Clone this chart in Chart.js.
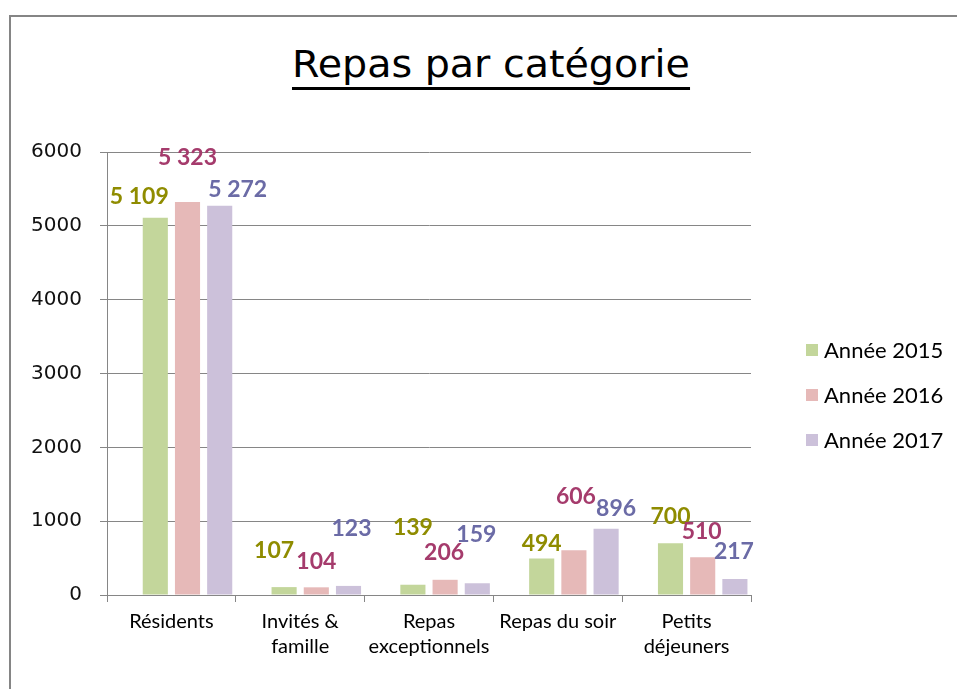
<!DOCTYPE html>
<html lang="fr">
<head>
<meta charset="utf-8">
<title>Repas par catégorie</title>
<script src="https://cdn.jsdelivr.net/npm/chart.js@4.4.1/dist/chart.umd.min.js"></script>
<style>
  html, body { margin: 0; padding: 0; background: #fff; }
  body { width: 957px; height: 689px; position: relative; overflow: hidden; }
  /* chart frame: only left and top edges are visible in the crop */
  .frame {
    position: absolute; left: 9px; top: 15px; width: 1200px; height: 900px;
    border-left: 2px solid #858585; border-top: 2px solid #858585;
  }
  .title {
    position: absolute; left: 0; top: 46px; width: 982px; text-align: center;
    font-family: "DejaVu Sans", sans-serif; font-size: 37px; line-height: 37px; color: #000;
  }
  .title span {
    display: inline-block; transform: scaleX(1.07); transform-origin: center;
    padding-bottom: 4px; border-bottom: 3px solid #000;
  }
  #chart { position: absolute; left: 0; top: 0; }
  #legend {
    position: absolute; left: 806px; top: 327px; margin: 0; padding: 0; list-style: none;
    font-family: Lato, sans-serif; font-size: 22px; color: #000;
  }
  #legend li { height: 45px; line-height: 45px; display: flex; align-items: center; white-space: nowrap; }
  #legend li i { display: inline-block; width: 12px; height: 12px; margin-right: 6px; }
</style>
</head>
<body>
<div class="frame"></div>
<div class="title"><span>Repas par catégorie</span></div>
<canvas id="chart" width="957" height="689"></canvas>
<ul id="legend"></ul>
<script>
// --- data ---
const categories = ['Résidents', ['Invités &', 'famille'], ['Repas', 'exceptionnels'], 'Repas du soir', ['Petits', 'déjeuners']];
const seriesNames = ['Année 2015', 'Année 2016', 'Année 2017'];
const values2015 = [5109, 107, 139, 494, 700];
const values2016 = [5323, 104, 206, 606, 510];
const values2017 = [5272, 123, 159, 896, 217];
const yTicks = [0, 1000, 2000, 3000, 4000, 5000, 6000];

// styles
const barColors = ['#c3d69b', '#e6b9b8', '#ccc1da'];
const labelColors = ['#8f8c00', '#a53b6c', '#6b6ba6'];
// value label placement (px from bar top centre), as in the original sheet
const labelShift = [
  [[-16, -22], [-10, -38], [0, -58], [0, -16], [0, -28]],
  [[0, -45], [0, -27], [-1, -28], [2, -55], [-1, -27]],
  [[18, -17], [3, -58], [-1, -50], [10, -21], [-1, -28]]
];

const gridColor = '#868686';
const seriesValues = [values2015, values2016, values2017];

// Excel leaves an empty slot on the left of each cluster
const datasets = [{
  label: '',
  data: categories.map(() => null),
  backgroundColor: 'rgba(0,0,0,0)'
}];
seriesValues.forEach((vals, i) => {
  datasets.push({
    label: seriesNames[i],
    data: vals,
    backgroundColor: barColors[i],
    borderWidth: 0,
    seriesIndex: i
  });
});

const frLabel = v => String(v).replace(/\B(?=(\d{3})+(?!\d))/g, ' ');

const valueLabels = {
  id: 'valueLabels',
  afterDatasetsDraw(chart) {
    const ctx = chart.ctx;
    ctx.save();
    ctx.font = 'bold 23px Lato, sans-serif';
    ctx.textAlign = 'center';
    ctx.textBaseline = 'alphabetic';
    chart.data.datasets.forEach((ds, di) => {
      if (ds.seriesIndex === undefined) return;
      const meta = chart.getDatasetMeta(di);
      ctx.fillStyle = labelColors[ds.seriesIndex];
      meta.data.forEach((bar, j) => {
        const [dx, dy] = labelShift[ds.seriesIndex][j];
        ctx.fillText(frLabel(ds.data[j]), bar.x + dx, bar.y + dy + 8.5);
      });
    });
    ctx.restore();
  }
};

// legend built from the chart's own legend items
const htmlLegend = {
  id: 'htmlLegend',
  afterUpdate(chart) {
    const ul = document.getElementById('legend');
    ul.innerHTML = '';
    const items = chart.options.plugins.legend.labels.generateLabels(chart);
    items.filter(item => item.text !== '').forEach(item => {
      const li = document.createElement('li');
      const box = document.createElement('i');
      box.style.background = item.fillStyle;
      li.appendChild(box);
      li.appendChild(document.createTextNode(item.text));
      ul.appendChild(li);
    });
  }
};

new Chart(document.getElementById('chart'), {
  type: 'bar',
  data: { labels: categories, datasets: datasets },
  options: {
    responsive: false,
    animation: false,
    layout: { padding: { left: 20, top: 152, right: 206, bottom: 23 } },
    plugins: {
      title: { display: false },
      tooltip: { enabled: false },
      legend: { display: false }
    },
    datasets: {
      bar: { categoryPercentage: 1.0, barPercentage: 0.78 }
    },
    scales: {
      x: {
        offset: true,
        grid: { display: true, drawOnChartArea: false, offset: true, tickLength: 7, color: gridColor },
        border: { color: gridColor },
        ticks: {
          color: '#000',
          padding: 7,
          maxRotation: 0,
          font: { family: 'Lato, sans-serif', size: 20, lineHeight: 1.25 }
        }
      },
      y: {
        min: 0,
        max: 6000,
        afterBuildTicks: s => { s.ticks = yTicks.map(v => ({ value: v })); },
        afterFit: s => { s.width = 87; },
        grid: { color: gridColor, tickLength: 7 },
        border: { color: gridColor },
        ticks: {
          color: '#111',
          padding: 18,
          callback: v => String(v),
          font: { family: '"DejaVu Sans", sans-serif', size: 20 }
        }
      }
    }
  },
  plugins: [valueLabels, htmlLegend]
});
</script>
</body>
</html>
